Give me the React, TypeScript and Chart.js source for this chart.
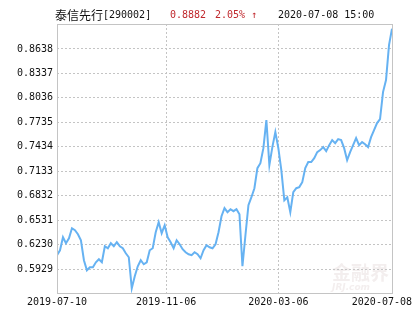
import React, { useEffect, useRef } from "react";
import { Chart, registerables } from "chart.js";

Chart.register(...registerables);

const fundName = "泰信先行";
const fundCode = "[290002]";
const latestValue = "0.8882";
const latestChange = "2.05% ↑";
const latestTime = "2020-07-08 15:00";

const navValues = [
  0.6093, 0.6154, 0.6314, 0.6241, 0.6302, 0.6425, 0.6401, 0.6351, 0.6277, 0.6031,
  0.5908, 0.5945, 0.5945, 0.6006, 0.6043, 0.6006, 0.6204, 0.6179, 0.6241, 0.6204,
  0.6253, 0.6204, 0.6179, 0.6117, 0.6068, 0.5686, 0.5834, 0.5957, 0.6031, 0.5982,
  0.6006, 0.6154, 0.6179, 0.6376, 0.6499, 0.6364, 0.6462, 0.6314, 0.6253, 0.6179,
  0.6277, 0.6228, 0.6167, 0.6130, 0.6105, 0.6093, 0.6130, 0.6105, 0.6056, 0.6154,
  0.6216, 0.6191, 0.6179, 0.6228, 0.6376, 0.6573, 0.6672, 0.6623, 0.6659, 0.6635,
  0.6659, 0.6598, 0.5957, 0.6339, 0.6709, 0.6807, 0.6918, 0.7165, 0.7226, 0.7411,
  0.7756, 0.7202, 0.7424, 0.7608, 0.7411, 0.7140, 0.6770, 0.6807, 0.6623, 0.6869,
  0.6918, 0.6931, 0.6992, 0.7165, 0.7239, 0.7239, 0.7288, 0.7362, 0.7387, 0.7424,
  0.7374, 0.7448, 0.7510, 0.7473, 0.7522, 0.7510, 0.7411, 0.7263, 0.7362, 0.7448,
  0.7534, 0.7448, 0.7485, 0.7460, 0.7424, 0.7547, 0.7633, 0.7719, 0.7769, 0.8101,
  0.8249, 0.8680, 0.8882,
];

const dateLabels = ["2019-07-10", "2019-11-06", "2020-03-06", "2020-07-08"];
const dateIndexes = [0, 36.5, 74, 112];

const yTickValues = [0.5929, 0.623, 0.6531, 0.6832, 0.7133, 0.7434, 0.7735, 0.8036, 0.8337, 0.8638];
const yMin = 0.5628;
const yMax = 0.8939;

const FONT = "'DejaVu Sans Mono', 'Liberation Mono', monospace";
const GRID = "#c4c4c4";

const decorPlugin = {
  id: "decor",
  beforeDraw(chart: any) {
    const { ctx, chartArea } = chart;
    ctx.save();
    ctx.fillStyle = "#ffffff";
    ctx.fillRect(0, 0, chart.width, chart.height);
    // watermark
    ctx.fillStyle = "rgba(220, 205, 205, 0.35)";
    ctx.font = "bold 19px 'Noto Sans CJK SC', sans-serif";
    ctx.textAlign = "right";
    ctx.textBaseline = "alphabetic";
    ctx.fillText("金融界", chartArea.right - 3, chartArea.bottom - 13);
    ctx.font = "italic bold 9px 'DejaVu Sans', sans-serif";
    ctx.fillText("JRJ.com", chartArea.right - 22, chartArea.bottom - 3);
    ctx.restore();
  },
  beforeDatasetsDraw(chart: any) {
    const { ctx, chartArea, scales } = chart;
    ctx.save();
    ctx.strokeStyle = GRID;
    ctx.lineWidth = 1;
    ctx.setLineDash([2, 2]);
    for (const v of yTickValues) {
      const y = Math.round(scales.y.getPixelForValue(v)) + 0.5;
      ctx.beginPath();
      ctx.moveTo(chartArea.left, y);
      ctx.lineTo(chartArea.right, y);
      ctx.stroke();
    }
    for (let i = 1; i < dateIndexes.length - 1; i++) {
      const x = Math.round(scales.x.getPixelForValue(dateIndexes[i])) + 0.5;
      ctx.beginPath();
      ctx.moveTo(x, chartArea.top);
      ctx.lineTo(x, chartArea.bottom);
      ctx.stroke();
    }
    ctx.restore();
  },
  afterDraw(chart: any) {
    const { ctx, chartArea, scales } = chart;
    ctx.save();
    ctx.strokeStyle = GRID;
    ctx.lineWidth = 1;
    ctx.strokeRect(
      Math.round(chartArea.left) + 0.5,
      Math.round(chartArea.top) + 0.5,
      Math.round(chartArea.right - chartArea.left),
      Math.round(chartArea.bottom - chartArea.top)
    );
    // y labels
    ctx.fillStyle = "#111111";
    ctx.font = "10px " + FONT;
    ctx.textAlign = "right";
    ctx.textBaseline = "middle";
    for (const v of yTickValues) {
      ctx.fillText(v.toFixed(4), chartArea.left - 4, scales.y.getPixelForValue(v) + 0.5);
    }
    // x labels
    ctx.textAlign = "center";
    for (let i = 0; i < dateIndexes.length; i++) {
      const label = dateLabels[i];
      const w = ctx.measureText(label).width;
      let cx = scales.x.getPixelForValue(dateIndexes[i]);
      cx = Math.min(cx, chart.width - 3 - w / 2);
      ctx.fillText(label, cx, chartArea.bottom + 9);
    }
    // title
    ctx.textBaseline = "middle";
    ctx.textAlign = "left";
    const y = 15;
    ctx.fillStyle = "#111111";
    ctx.font = "12px 'Noto Sans CJK SC', sans-serif";
    ctx.fillText(fundName, 55, y);
    ctx.font = "10px " + FONT;
    ctx.fillText(fundCode, 103, y);
    ctx.fillStyle = "#c0282d";
    ctx.fillText(latestValue, 170, y);
    ctx.fillText(latestChange, 215, y);
    ctx.fillStyle = "#111111";
    ctx.fillText(latestTime, 278, y);
    ctx.restore();
  },
};

export default function App() {
  const ref = useRef<HTMLCanvasElement>(null);
  useEffect(() => {
    const canvas = ref.current!;
    const chart = new Chart(canvas, {
      type: "line",
      data: {
        datasets: [
          {
            data: navValues.map((v, i) => ({ x: i, y: v })),
            borderColor: "#66b2f2",
            borderWidth: 2,
            pointRadius: 0,
            tension: 0,
            fill: false,
          },
        ],
      },
      options: {
        responsive: false,
        animation: false,
        events: [],
        layout: { padding: { top: 24, right: 23, left: 0, bottom: 0 } },
        plugins: { legend: { display: false }, tooltip: { enabled: false }, title: { display: false } },
        scales: {
          x: {
            type: "linear",
            min: 0,
            max: navValues.length - 1,
            afterBuildTicks: (scale: any) => {
              scale.ticks = dateIndexes.map((v) => ({ value: v }));
            },
            afterFit: (scale: any) => {
              scale.height = 37;
              scale.paddingLeft = 0;
              scale.paddingRight = 0;
            },
            grid: { display: false },
            border: { display: false },
            ticks: { display: false },
          },
          y: {
            type: "linear",
            min: yMin,
            max: yMax,
            afterBuildTicks: (scale: any) => {
              scale.ticks = yTickValues.map((v) => ({ value: v }));
            },
            afterFit: (scale: any) => {
              scale.width = 57;
              scale.paddingTop = 0;
              scale.paddingBottom = 0;
            },
            grid: { display: false },
            border: { display: false },
            ticks: { display: false },
          },
        },
      },
      plugins: [decorPlugin],
    } as any);
    return () => chart.destroy();
  }, []);
  return (
    <div style={{ position: "fixed", left: 0, top: 0, width: 415, height: 330, background: "#fff" }}>
      <canvas ref={ref} width={415} height={330} style={{ width: 415, height: 330, display: "block" }} />
    </div>
  );
}
